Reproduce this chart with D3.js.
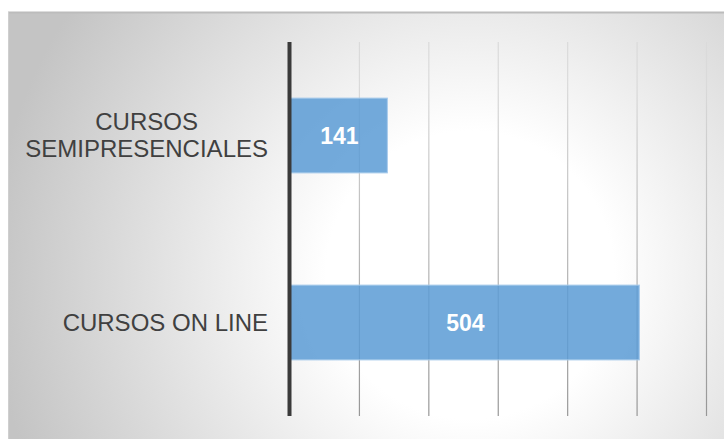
<!DOCTYPE html>
<html>
<head>
<meta charset="utf-8">
<script src="https://cdn.jsdelivr.net/npm/d3@7"></script>
<style>
  html, body { margin: 0; padding: 0; background: #fff; }
  svg { display: block; font-family: "Liberation Sans", Arial, sans-serif; }
</style>
</head>
<body>
<div id="chart"></div>
<script>
// data
const categories = ["CURSOS SEMIPRESENCIALES", "CURSOS ON LINE"];
const values = [141, 504];
const xTicks = [0, 100, 200, 300, 400, 500, 600];

const width = 724;
const height = 439;
const plot = { left: 289.5, right: 706, top: 42, bottom: 416 };

const svg = d3
  .select("#chart")
  .append("svg")
  .attr("width", width)
  .attr("height", height);

const defs = svg.append("defs");

const bg = defs
  .append("radialGradient")
  .attr("id", "bg")
  .attr("gradientUnits", "userSpaceOnUse")
  .attr("cx", 470)
  .attr("cy", 275)
  .attr("r", 480);
bg.append("stop").attr("offset", "0%").attr("stop-color", "#ffffff");
bg.append("stop").attr("offset", "30%").attr("stop-color", "#ffffff");
bg.append("stop").attr("offset", "100%").attr("stop-color", "#c4c4c4");

const gridGrad = defs
  .append("linearGradient")
  .attr("id", "gridGrad")
  .attr("gradientUnits", "userSpaceOnUse")
  .attr("x1", 0)
  .attr("y1", plot.top)
  .attr("x2", 0)
  .attr("y2", plot.bottom);
gridGrad.append("stop").attr("offset", "0%").attr("stop-color", "#dadada");
gridGrad.append("stop").attr("offset", "100%").attr("stop-color", "#8e8e8e");

// frame
svg
  .append("rect")
  .attr("x", 8)
  .attr("y", 12)
  .attr("width", width)
  .attr("height", height)
  .attr("fill", "url(#bg)");

svg
  .append("line")
  .attr("x1", 8)
  .attr("x2", width)
  .attr("y1", 12.5)
  .attr("y2", 12.5)
  .attr("stroke", "#bcbcbc")
  .attr("stroke-width", 2);

svg
  .append("line")
  .attr("x1", 8.5)
  .attr("x2", 8.5)
  .attr("y1", 12)
  .attr("y2", height)
  .attr("stroke", "#cfcfcf")
  .attr("stroke-width", 1);

const x = d3
  .scaleLinear()
  .domain([0, 600])
  .range([plot.left, plot.right]);

const y = d3
  .scaleBand()
  .domain(categories)
  .range([plot.top, plot.bottom])
  .paddingInner(0.6)
  .paddingOuter(0.3);

// gridlines
const grid = svg
  .append("g")
  .attr("transform", `translate(0,${plot.top})`)
  .call(
    d3
      .axisBottom(x)
      .tickValues(xTicks.slice(1))
      .tickSize(plot.bottom - plot.top)
      .tickFormat("")
  );
grid.select(".domain").remove();
grid
  .selectAll(".tick line")
  .attr("stroke", "url(#gridGrad)")
  .attr("stroke-width", 1.2);

// bars
svg
  .selectAll(".bar")
  .data(values)
  .enter()
  .append("rect")
  .attr("class", "bar")
  .attr("x", x(0))
  .attr("y", (d, i) => y(categories[i]))
  .attr("width", (d) => x(d) - x(0))
  .attr("height", y.bandwidth())
  .attr("fill", "#5b9bd5")
  .attr("fill-opacity", 0.85)
  .attr("stroke", "#a9cbec")
  .attr("stroke-width", 1);

// value labels
svg
  .selectAll(".value")
  .data(values)
  .enter()
  .append("text")
  .attr("class", "value")
  .attr("x", (d) => (x(0) + x(d)) / 2 + 1)
  .attr("y", (d, i) => y(categories[i]) + y.bandwidth() / 2 + 8)
  .attr("text-anchor", "middle")
  .attr("fill", "#ffffff")
  .attr("font-weight", "bold")
  .attr("font-size", 23)
  .text((d) => d);

// vertical axis line
svg
  .append("line")
  .attr("x1", x(0))
  .attr("x2", x(0))
  .attr("y1", plot.top)
  .attr("y2", plot.bottom)
  .attr("stroke", "#3a3a3a")
  .attr("stroke-width", 4);

// category labels, wrapped when too wide, lines centred, block right-aligned
const lineHeight = 27.4;
const maxLabel = 250;
const labelRight = 268;
const labels = svg
  .selectAll(".cat")
  .data(categories)
  .enter()
  .append("text")
  .attr("class", "cat")
  .attr("text-anchor", "middle")
  .attr("fill", "#404040")
  .attr("font-size", 24);

labels.each(function (d) {
  const t = d3.select(this);
  t.text(d);
  let lines = [d];
  if (this.getComputedTextLength() > maxLabel) {
    const k = d.indexOf(" ");
    lines = [d.slice(0, k), d.slice(k + 1)];
  }
  t.text(null);
  const c = y(d) + y.bandwidth() / 2;
  const spans = lines.map((s, i) =>
    t
      .append("tspan")
      .attr("y", c + 8 + (i - (lines.length - 1) / 2) * lineHeight)
      .text(s)
  );
  const w = d3.max(spans, (sp) => sp.node().getComputedTextLength());
  spans.forEach((sp) => sp.attr("x", labelRight - w / 2));
});
</script>
</body>
</html>
